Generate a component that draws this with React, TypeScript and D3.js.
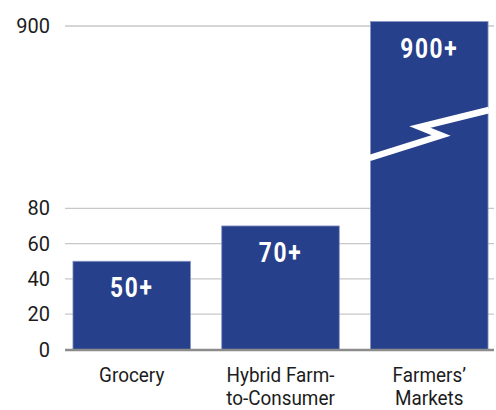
import React, { useEffect, useRef } from "react";
import * as d3 from "d3";

// Chart data
const categories = ["Grocery", "Hybrid Farm-\nto-Consumer", "Farmers’\nMarkets"];
const values = [50, 70, 920];
const valueLabels = ["50+", "70+", "900+"];
const yTicks = [0, 20, 40, 60, 80, 900];

const WIDTH = 496;
const HEIGHT = 410;

export default function App() {
  const svgRef = useRef<SVGSVGElement>(null);

  useEffect(() => {
    if (!svgRef.current) return;

    const svg = d3.select(svgRef.current);
    svg.selectAll("*").remove();

    const left = 65;
    const right = 494;

    // Band scale for the three bars
    const xScale = d3
      .scaleBand<string>()
      .domain(categories)
      .range([67, right])
      .paddingInner(0.21)
      .paddingOuter(0.04);

    // Broken axis: 0–80 in the lower part, then compressed up to 900
    const yScale = d3
      .scaleLinear()
      .domain([0, 80, 900])
      .range([349.5, 208.3, 26]);

    const font = "Roboto, 'Liberation Sans', Arial, sans-serif";

    // Gridlines
    svg
      .append("g")
      .selectAll("line")
      .data(yTicks.filter((t) => t !== 0))
      .join("line")
      .attr("x1", left)
      .attr("x2", right)
      .attr("y1", (d) => yScale(d))
      .attr("y2", (d) => yScale(d))
      .attr("stroke", "#c8c8c8")
      .attr("stroke-width", 1.3);

    // Y tick labels
    svg
      .append("g")
      .selectAll("text")
      .data(yTicks)
      .join("text")
      .attr("x", 50)
      .attr("y", (d) => yScale(d))
      .attr("dy", "0.35em")
      .attr("text-anchor", "end")
      .attr("fill", "#1c1c1c")
      .style("font-family", font)
      .style("font-size", "20px")
      .text((d) => String(d));

    // Bars
    const bars = svg.append("g");
    bars
      .selectAll("rect")
      .data(values)
      .join("rect")
      .attr("x", (_, i) => xScale(categories[i]) ?? 0)
      .attr("y", (d) => yScale(d))
      .attr("width", xScale.bandwidth())
      .attr("height", (d) => yScale(0) - yScale(d))
      .attr("fill", "#27408b")
      .attr("stroke", "#8795c4")
      .attr("stroke-width", 0.8);

    // Break marker on the tall bar
    const bx = xScale(categories[2]) ?? 0;
    const bw = xScale.bandwidth();
    const breakLine = d3.line<[number, number]>();
    const breakPts: [number, number][] = [
      [bx - 1, 158],
      [bx + bw * 0.6, 135.5],
      [bx + bw * 0.42, 127],
      [bx + bw + 1, 110],
    ];
    svg
      .append("path")
      .attr("d", breakLine(breakPts))
      .attr("fill", "none")
      .attr("stroke", "#ffffff")
      .attr("stroke-width", 6.5)
      .attr("stroke-linejoin", "miter");

    // Value labels inside bars
    svg
      .append("g")
      .selectAll("text")
      .data(values)
      .join("text")
      .attr(
        "transform",
        (d, i) =>
          `translate(${(xScale(categories[i]) ?? 0) + bw / 2},${yScale(d) + 36}) scale(0.84,1)`
      )
      .attr("text-anchor", "middle")
      .attr("fill", "#ffffff")
      .style("font-family", font)
      .style("font-weight", "700")
      .style("font-size", "27px")
      .style("letter-spacing", "2px")
      .text((_, i) => valueLabels[i]);

    // Baseline axis
    svg
      .append("line")
      .attr("x1", left)
      .attr("x2", right)
      .attr("y1", yScale(0) + 0.5)
      .attr("y2", yScale(0) + 0.5)
      .attr("stroke", "#8c8c8c")
      .attr("stroke-width", 2.4);

    // Category labels
    const xLabels = svg.append("g");
    categories.forEach((cat, i) => {
      const cx = (xScale(cat) ?? 0) + bw / 2;
      const t = xLabels
        .append("text")
        .attr("transform", `translate(${cx},382) scale(0.9,1)`)
        .attr("text-anchor", "middle")
        .attr("fill", "#1c1c1c")
        .style("font-family", font)
        .style("font-size", "21px");
      cat.split("\n").forEach((line, j) => {
        t.append("tspan")
          .attr("x", 0)
          .attr("y", j * 23)
          .text(line);
      });
    });
  }, []);

  return (
    <div style={{ position: "fixed", left: 0, top: 0 }}>
      <svg
        ref={svgRef}
        width={WIDTH}
        height={HEIGHT}
        style={{ display: "block", background: "#ffffff" }}
      />
    </div>
  );
}
